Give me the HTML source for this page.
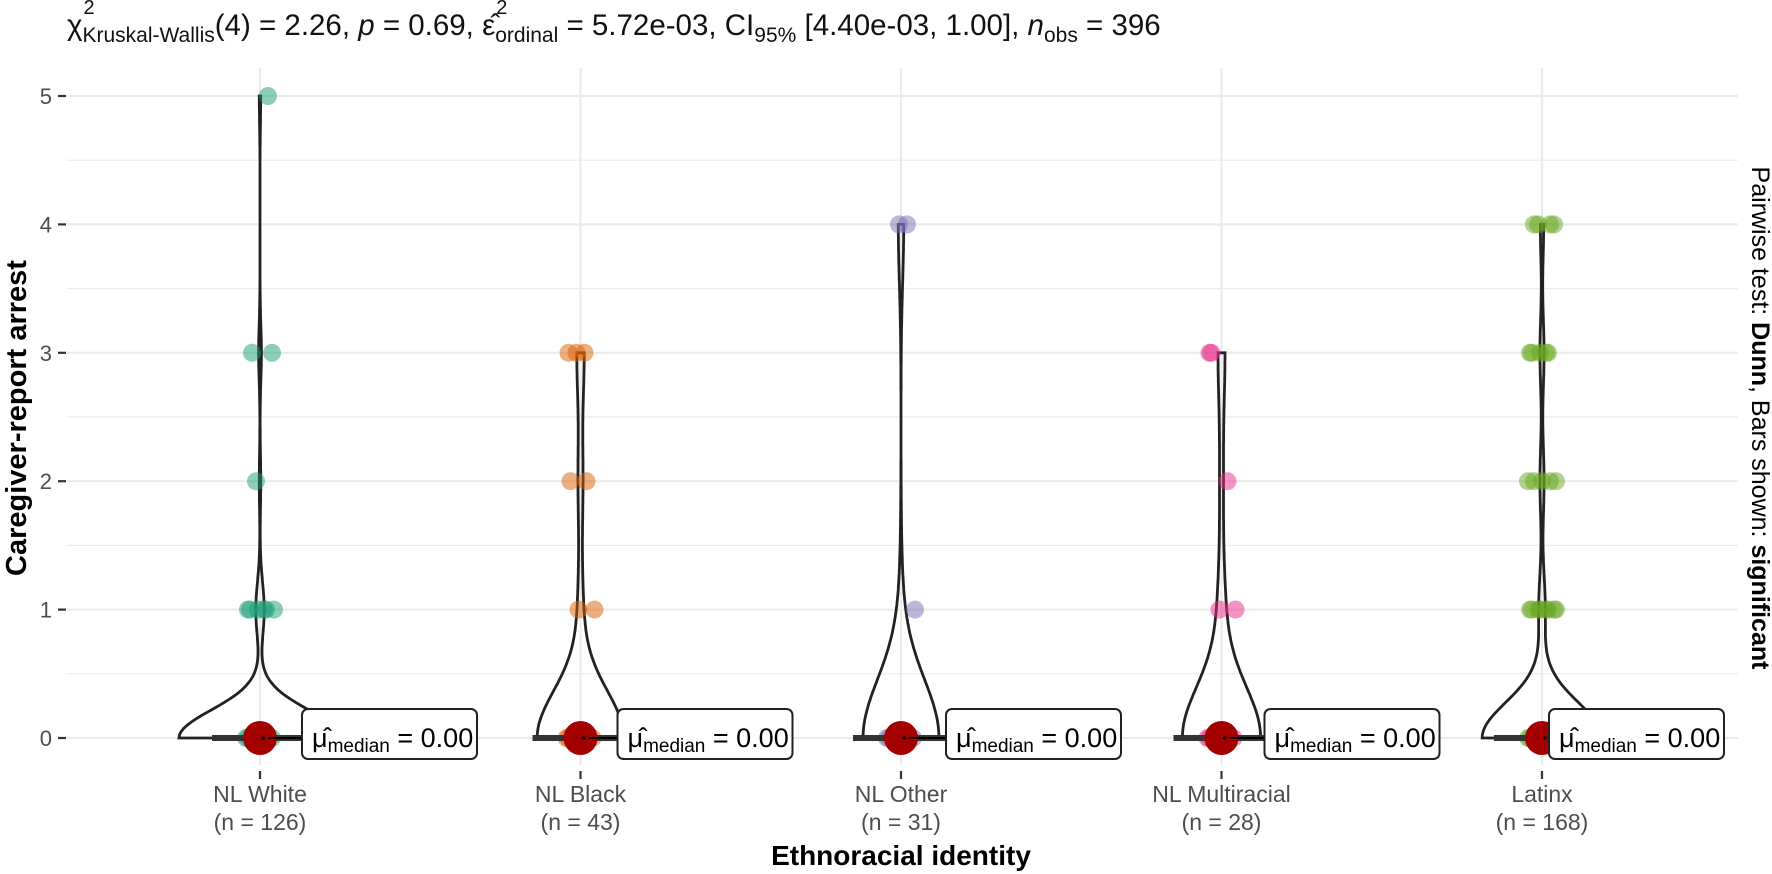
<!DOCTYPE html>
<html><head><meta charset="utf-8">
<style>
html,body{margin:0;padding:0;background:#fff;}
svg{display:block;font-family:"Liberation Sans",Arial,sans-serif;}
</style></head>
<body>
<svg id="chart" width="1772" height="874" viewBox="0 0 1772 874" xmlns="http://www.w3.org/2000/svg">
  <text id="title" x="67" y="35" font-size="29.5" fill="#111">χ<tspan id="subKW" font-size="21" dy="7">Kruskal-Wallis</tspan><tspan dy="-7">(4) = 2.26, </tspan><tspan font-style="italic">p</tspan><tspan> = 0.69, </tspan><tspan id="eps">ε̂</tspan><tspan font-size="21" dy="7">ordinal</tspan><tspan dy="-7"> = 5.72e-03, CI</tspan><tspan font-size="21" dy="7">95%</tspan><tspan dy="-7"> [4.40e-03, 1.00], </tspan><tspan font-style="italic">n</tspan><tspan font-size="21" dy="7">obs</tspan><tspan dy="-7"> = 396</tspan></text>
  <text id="sup1" x="70" y="14" font-size="20" fill="#111">2</text>
  <text id="sup2" x="585" y="14" font-size="20" fill="#111">2</text>
  <g id="grid"></g>
  <g id="yaxis"></g>
  <g id="xaxis"></g>
  <g id="marks"></g>
  <text transform="translate(26,418) rotate(-90)" text-anchor="middle" font-size="29" font-weight="bold" fill="#000">Caregiver-report arrest</text>
  <text x="901" y="865" text-anchor="middle" font-size="28" font-weight="bold" fill="#000">Ethnoracial identity</text>
  <text transform="translate(1752,418) rotate(90)" text-anchor="middle" font-size="25" fill="#000">Pairwise test: <tspan font-weight="bold">Dunn</tspan>, Bars shown: <tspan font-weight="bold">significant</tspan></text>
</svg>
<script>
const categories = ["NL White","NL Black","NL Other","NL Multiracial","Latinx"];
const groupN = [126,43,31,28,168];
const values = [0,1,2,3,4,5];
// counts of observations at each value (0..5) per group
const countsWhite = [116,6,1,2,0,1];
const countsBlack = [36,2,2,3,0,0];
const countsOther = [28,1,0,0,2,0];
const countsMulti = [23,2,1,2,0,0];
const countsLatinx = [146,8,5,5,4,0];
const medians = [0,0,0,0,0];
const yTicks = [0,1,2,3,4,5];
const colors = ["#1B9E77","#D95F02","#7570B3","#E7298A","#66A61E"];
const labelOffsets = [42,37,45,43,7];

const NS="http://www.w3.org/2000/svg";
const yScale = v => 738 - v*128.4;
const xScale = i => 260 + i*320.5;
const panelL=67, panelR=1738, panelT=68, panelB=765;
function mk(tag, attrs, parent){const e=document.createElementNS(NS,tag);for(const k in attrs)e.setAttribute(k,attrs[k]);parent.appendChild(e);return e;}

try{
  const t=document.getElementById('title');
  const full=t.textContent;
  const i1=full.indexOf('Kruskal');
  const i2=full.indexOf('ordinal');
  document.getElementById('sup1').setAttribute('x', t.getStartPositionOfChar(i1).x+1);
  document.getElementById('sup2').setAttribute('x', t.getStartPositionOfChar(i2).x+1);
}catch(e){}

const grid=document.getElementById('grid');
for(let v=0; v<=5; v+=0.5){
  const l=mk('line',{x1:panelL,x2:panelR,y1:yScale(v),y2:yScale(v),stroke:'#ebebeb','stroke-width':Number.isInteger(v)?2.2:1.2},grid);
  
  
}
categories.forEach((c,i)=>{
  const l=mk('line',{x1:xScale(i),x2:xScale(i),y1:panelT,y2:panelB,stroke:'#ebebeb','stroke-width':2.2},grid);
  
  
});

const ya=document.getElementById('yaxis');
yTicks.forEach(t=>{
  const tk=mk('line',{x1:58,x2:66,y1:yScale(t),y2:yScale(t),stroke:'#333','stroke-width':2.2},ya);
  
  
  const tx=mk('text',{x:52,y:yScale(t)+8,'text-anchor':'end','font-size':22,fill:'#4d4d4d'},ya);
  tx.textContent=String(t);
  
  
});
const xa=document.getElementById('xaxis');
categories.forEach((c,i)=>{
  const tk=mk('line',{x1:xScale(i),x2:xScale(i),y1:771,y2:779,stroke:'#333','stroke-width':2.2},xa);
  
  
  const t1=mk('text',{x:xScale(i),y:802,'text-anchor':'middle','font-size':23,fill:'#4d4d4d'},xa);
  t1.textContent=c;
  
  
  const t2=mk('text',{x:xScale(i),y:830,'text-anchor':'middle','font-size':23,fill:'#4d4d4d'},xa);
  t2.textContent='(n = '+groupN[i]+')';
  
  
});

const allCounts=[countsWhite,countsBlack,countsOther,countsMulti,countsLatinx];
function kde(counts){
  let n=0,s=0,s2=0,max=0;
  counts.forEach((c,v)=>{n+=c;s+=c*v;s2+=c*v*v;if(c>0)max=Math.max(max,v);});
  const m=s/n, sd=Math.sqrt(Math.max((s2-n*m*m)/(n-1),1e-6));
  const bw=0.9*sd*Math.pow(n,-0.2);
  const pts=[];
  for(let y=0;y<=max+1e-9;y+=max/200){
    let d=0; counts.forEach((c,v)=>{d+=c*Math.exp(-0.5*((y-v)/bw)**2);});
    d/= n*bw*Math.sqrt(2*Math.PI);
    pts.push([y,d]);
  }
  return pts;
}
const dens=allCounts.map(kde);
let gmax=0; dens.forEach(p=>p.forEach(q=>gmax=Math.max(gmax,q[1])));
const k=81/gmax;
const marks=document.getElementById('marks');
const jit=[-12,4,-4,12,-8,8,0,-14,14,-2,6,-10];

dens.forEach((pts,i)=>{
  const cx=xScale(i);
  let d='M'+cx+','+yScale(0);
  pts.forEach(p=>{d+=' L'+(cx+k*p[1]).toFixed(1)+','+yScale(p[0]).toFixed(1);});
  for(let j=pts.length-1;j>=0;j--){d+=' L'+(cx-k*pts[j][1]).toFixed(1)+','+yScale(pts[j][0]).toFixed(1);}
  d+=' Z';
  const v=mk('path',{d:d,fill:'none',stroke:'#222','stroke-width':2.8},marks);
  
  
});
allCounts.forEach((counts,i)=>{
  const cx=xScale(i); let idx=0;
  counts.forEach((c,v)=>{
    const shown=Math.min(c, v===0?8:c);
    for(let j=0;j<shown;j++){
      const p=mk('circle',{cx:cx+jit[(idx++)%jit.length],cy:yScale(v),r:9,fill:colors[i],'fill-opacity':0.5},marks);
      
      
    }
  });
});
medians.forEach((m,i)=>{
  const cx=xScale(i), cy=yScale(m);
  const b=mk('line',{x1:cx-48,x2:cx+48,y1:cy,y2:cy,stroke:'#333','stroke-width':6},marks);
  
  
  const dot=mk('circle',{cx:cx,cy:cy,r:17,fill:'#a50000'},marks);
  
  
  const c=mk('circle',{cx:cx+3,cy:cy,r:1.8,fill:'#000'},marks);
  
  
  const bx=cx+labelOffsets[i];
  const seg=mk('line',{x1:cx+8,x2:bx,y1:cy,y2:cy,stroke:'#000','stroke-width':2},marks);
  
  
  const r=mk('rect',{x:bx,y:cy-29,width:175,height:50,rx:6,fill:'#fff',stroke:'#222','stroke-width':2},marks);
  
  
  const t=mk('text',{x:bx+10,y:cy+9,'font-size':27,fill:'#000'},marks);
  
  
  t.innerHTML='μ̂<tspan font-size="19" dy="5">median</tspan><tspan dy="-5"> = '+m.toFixed(2)+'</tspan>';
});
</script>
</body></html>
